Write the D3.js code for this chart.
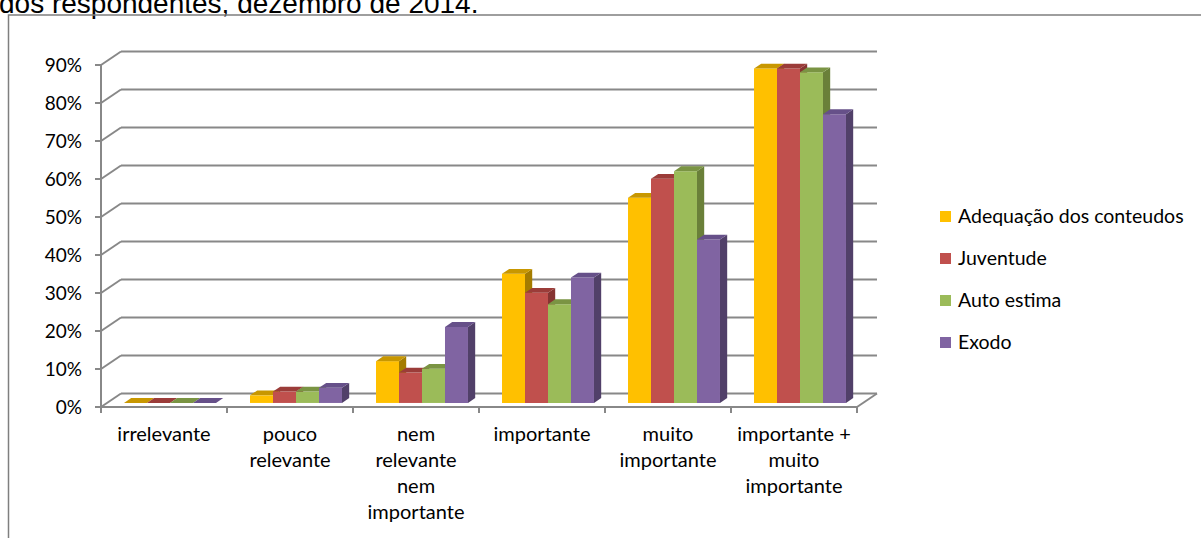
<!DOCTYPE html>
<html>
<head>
<meta charset="utf-8">
<script src="https://cdn.jsdelivr.net/npm/d3@7"></script>
<style>
  html, body { margin: 0; padding: 0; background: #fff; }
  svg { display: block; }
</style>
</head>
<body>
<svg id="chart" width="1201" height="538"></svg>
<script>
// Importance ratings per theme (share of respondents)
const categories = [
  "irrelevante",
  "pouco relevante",
  "nem relevante nem importante",
  "importante",
  "muito importante",
  "importante + muito importante"
];
const categoryLines = [
  ["irrelevante"],
  ["pouco", "relevante"],
  ["nem", "relevante", "nem", "importante"],
  ["importante"],
  ["muito", "importante"],
  ["importante +", "muito", "importante"]
];
const seriesNames = ["Adequação dos conteudos", "Juventude", "Auto estima", "Exodo"];
const adequacao  = [0, 2, 11, 34, 54, 88];
const juventude  = [0, 3,  8, 29, 59, 88];
const autoEstima = [0, 3,  9, 26, 61, 87];
const exodo      = [0, 4, 20, 33, 43, 76];
const yTicks = [0, 10, 20, 30, 40, 50, 60, 70, 80, 90];
const titleText = "dos respondentes, dezembro de 2014.";

const seriesValues = [adequacao, juventude, autoEstima, exodo];
const palette = [
  { front: "#FFC000", top: "#C89700", side: "#A47C00" },
  { front: "#C0504D", top: "#9B3C39", side: "#863432" },
  { front: "#9BBB59", top: "#7A9443", side: "#6A8039" },
  { front: "#8064A2", top: "#665089", side: "#514069" }
];

const svg = d3.select("#chart");
const FONT = "Lato, 'Open Sans', sans-serif";
const GRID = "#888888";

// Title line (continuing from above) and the outer frame
svg.append("text")
  .attr("x", -1).attr("y", 12.5)
  .attr("font-family", "'Liberation Sans', Arial, sans-serif")
  .attr("font-size", 28)
  .attr("fill", "#000")
  .text(titleText);

svg.append("rect")
  .attr("x", 8.5).attr("y", 15)
  .attr("width", 1250).attr("height", 600)
  .attr("fill", "none")
  .attr("stroke", "#7f7f7f")
  .attr("stroke-width", 1.5);

// Scales: front plane of the 3D box
const x = d3.scaleBand().domain(categories).range([101, 857]).padding(0);
const xs = d3.scaleBand().domain(seriesNames).range([0, x.bandwidth()])
  .paddingInner(0).paddingOuter(0.74);
const y = d3.scaleLinear().domain([0, 90]).range([407, 65]);

// Oblique depth projection
const DX = 20, DY = -13.5;
const proj = (xw, v, d) => [xw + DX * d, y(v) + DY * d];
const line = pts => "M" + pts.map(p => p.join(",")).join("L");
const poly = pts => line(pts) + "Z";

const walls = svg.append("g").attr("fill", "none").attr("stroke", GRID).attr("stroke-width", 2);

// Back-wall gridlines and side-wall diagonals
yTicks.forEach(t => {
  walls.append("path").attr("d", line([proj(x.range()[0], t, 1), proj(x.range()[1], t, 1)]));
  walls.append("path").attr("d", line([proj(x.range()[0], t, 0), proj(x.range()[0], t, 1)]));
  walls.append("path").attr("d", line([[x.range()[0] - 6, y(t)], [x.range()[0], y(t)]]));
});
// Front value axis
walls.append("path").attr("d", line([proj(x.range()[0], 0, 0), proj(x.range()[0], 90, 0)]));
// Floor front edge and right edge
walls.append("path").attr("d", line([proj(x.range()[0], 0, 0), proj(x.range()[1], 0, 0)]));
walls.append("path").attr("d", line([proj(x.range()[1], 0, 0), proj(x.range()[1], 0, 1)]));
// Category tick marks
const catEdges = categories.map(c => x(c)).concat([x.range()[1]]);
catEdges.forEach(e => {
  walls.append("path").attr("d", line([[e, y(0)], [e, y(0) + 6]]));
});

// Value axis labels
svg.append("g").selectAll("text").data(yTicks).join("text")
  .attr("x", 82)
  .attr("y", d => y(d))
  .attr("dy", "0.35em")
  .attr("text-anchor", "end")
  .attr("font-family", FONT)
  .attr("font-size", 19)
  .attr("fill", "#000")
  .text(d => d + "%");

// Category labels
const catLabels = svg.append("g");
categories.forEach((c, i) => {
  const t = catLabels.append("text")
    .attr("x", x(c) + x.bandwidth() / 2)
    .attr("y", 441)
    .attr("text-anchor", "middle")
    .attr("font-family", FONT)
    .attr("font-size", 20)
    .attr("fill", "#000");
  categoryLines[i].forEach((ln, k) => {
    t.append("tspan")
      .attr("x", x(c) + x.bandwidth() / 2)
      .attr("y", 441 + k * 26)
      .text(ln);
  });
});

// 3D bars
const D0 = 0.3, D1 = 0.66;
const bars = svg.append("g");
categories.forEach((c, ci) => {
  seriesNames.forEach((s, si) => {
    const v = seriesValues[si][ci];
    const x0 = x(c) + xs(s);
    const x1 = x0 + xs.bandwidth();
    const col = palette[si];
    const g = bars.append("g");
    // right side face
    g.append("path")
      .attr("d", poly([proj(x1, 0, D0), proj(x1, 0, D1), proj(x1, v, D1), proj(x1, v, D0)]))
      .attr("fill", col.side);
    // front face
    g.append("path")
      .attr("d", poly([proj(x0, 0, D0), proj(x1, 0, D0), proj(x1, v, D0), proj(x0, v, D0)]))
      .attr("fill", col.front);
    // top face
    g.append("path")
      .attr("d", poly([proj(x0, v, D0), proj(x1, v, D0), proj(x1, v, D1), proj(x0, v, D1)]))
      .attr("fill", col.top);
  });
});

// Legend
const legend = svg.append("g");
const legendY = [216.5, 258.5, 300.5, 342.5];
seriesNames.forEach((s, i) => {
  legend.append("rect")
    .attr("x", 940).attr("y", legendY[i] - 5.5)
    .attr("width", 11).attr("height", 11)
    .attr("fill", palette[i].front);
  legend.append("text")
    .attr("x", 958).attr("y", legendY[i])
    .attr("dy", "0.35em")
    .attr("font-family", FONT)
    .attr("font-size", 19.5)
    .attr("fill", "#000")
    .text(s);
});
</script>
</body>
</html>
